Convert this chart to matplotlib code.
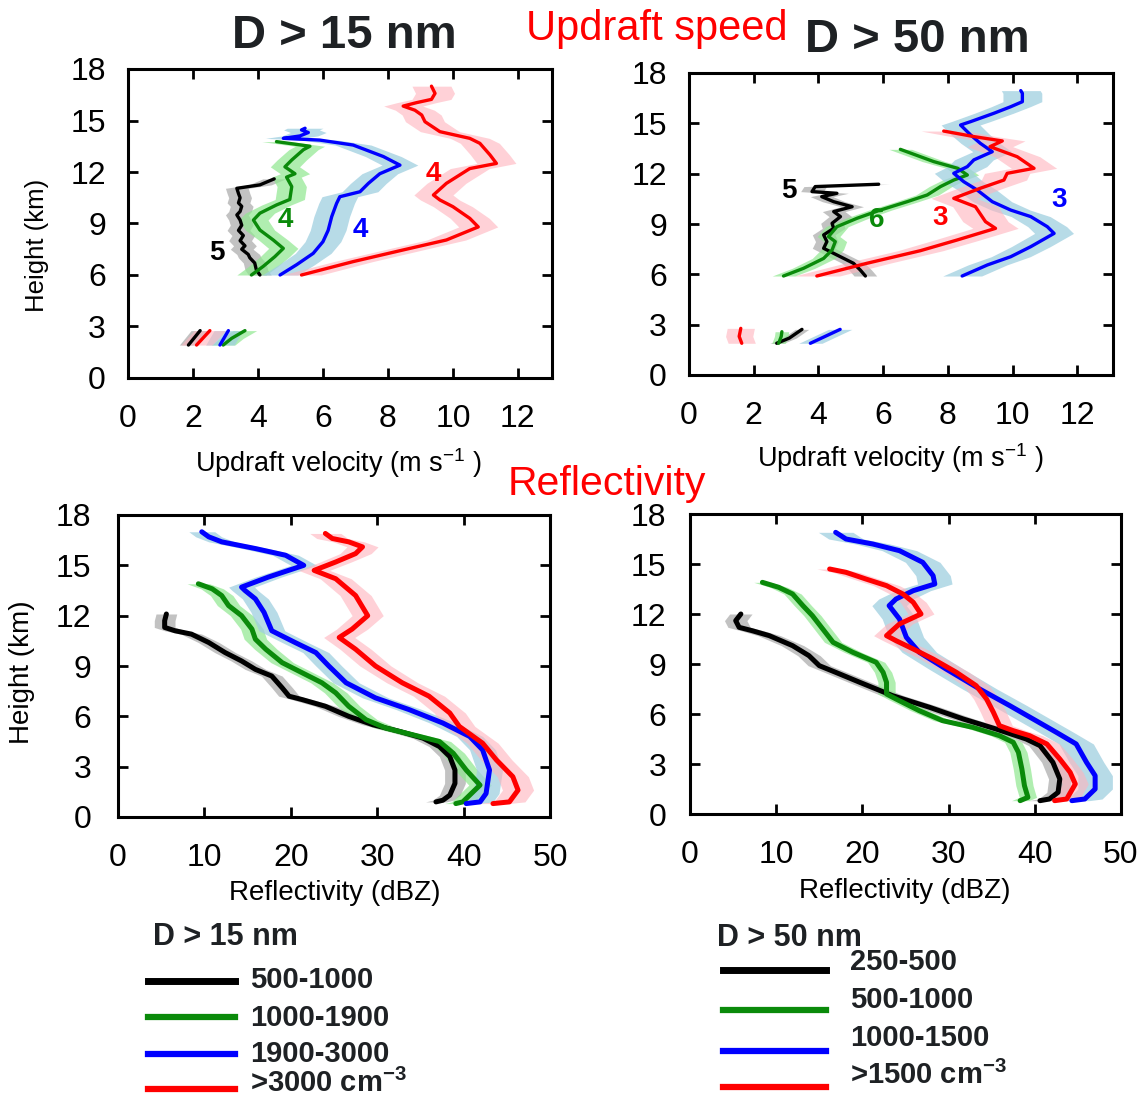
import matplotlib
matplotlib.use('Agg')
import matplotlib.pyplot as plt
from matplotlib.lines import Line2D
import numpy as np

plt.rcParams['font.family'] = ['Liberation Sans', 'DejaVu Sans']
plt.rcParams['mathtext.fontset'] = 'custom'
plt.rcParams['mathtext.rm'] = 'Liberation Sans'
plt.rcParams['mathtext.it'] = 'Liberation Sans:italic'
plt.rcParams['mathtext.bf'] = 'Liberation Sans:bold'

# ---------------- data ----------------
# Updraft velocity, D > 15 nm  (height km, velocity m/s)
w15_black_h = [6.0, 6.3, 6.7, 7.0, 7.2, 7.5, 7.7, 8.0, 8.3, 8.6, 8.9, 9.2, 9.5, 9.7, 10.0, 10.2, 10.5, 10.75, 11.05, 11.25, 11.6]
w15_black_v = [4.06, 3.95, 3.9, 3.75, 3.7, 3.5, 3.6, 3.45, 3.55, 3.4, 3.5, 3.45, 3.35, 3.45, 3.5, 3.4, 3.45, 3.4, 3.35, 4.06, 4.5]
w15_green_h = [6.0, 6.5, 7.07, 7.55, 8.04, 8.62, 9.2, 9.6, 10.08, 10.4, 11.15, 11.7, 11.9, 12.3, 12.7, 13.3, 13.5, 13.77]
w15_green_v = [3.8, 4.16, 4.52, 4.78, 4.47, 4.06, 3.86, 4.06, 4.57, 4.98, 5.04, 4.88, 5.14, 4.83, 5.04, 5.4, 5.6, 4.57]
w15_blue_h = [6.0, 6.6, 7.26, 7.94, 8.6, 9.4, 10.17, 10.56, 10.85, 11.34, 11.9, 12.4, 12.9, 13.57, 13.86, 13.96, 14.1, 14.3, 14.45, 14.55]
w15_blue_v = [4.68, 5.19, 5.7, 6.0, 6.16, 6.27, 6.42, 6.52, 7.14, 7.4, 7.75, 8.37, 7.86, 6.93, 5.9, 4.78, 5.29, 5.55, 5.34, 5.45]
w15_red_h = [6.0, 6.78, 7.46, 8.04, 8.8, 9.3, 9.98, 10.37, 10.66, 11.34, 12.2, 12.5, 13.0, 13.67, 13.96, 14.35, 14.93, 15.32, 15.6, 15.84, 16.04, 16.23, 16.58, 17.0]
w15_red_v = [5.34, 6.93, 8.47, 9.8, 10.78, 10.52, 10.0, 9.6, 9.4, 9.8, 10.52, 11.34, 11.14, 10.83, 10.52, 9.6, 9.14, 9.04, 8.83, 8.47, 8.88, 9.34, 9.45, 9.34]
# low-level segments (D > 15 nm)
w15_low_black_h = [1.92, 2.76]
w15_low_black_v = [1.86, 2.22]
w15_low_red_h = [1.92, 2.76]
w15_low_red_v = [2.11, 2.52]
w15_low_blue_h = [1.92, 2.76]
w15_low_blue_v = [2.83, 3.09]
w15_low_green_h = [1.92, 2.31, 2.76]
w15_low_green_v = [2.93, 3.19, 3.6]
w15_spread = [0.35, 0.45, 0.55, 0.6]          # black, green, blue, red
w15_counts = ['5', '4', '4', '4']

# Updraft velocity, D > 50 nm
w50_black_h = [5.9, 6.26, 6.66, 6.95, 7.25, 7.55, 7.95, 8.35, 8.74, 9.04, 9.44, 9.74, 10.03, 10.33, 10.63, 10.83, 10.93, 11.23, 11.37]
w50_black_v = [5.45, 5.29, 5.08, 4.78, 4.47, 4.16, 4.26, 4.16, 4.47, 4.42, 4.68, 4.47, 5.04, 4.47, 4.1, 4.57, 3.8, 3.9, 5.86]
w50_green_h = [5.9, 6.36, 6.95, 7.45, 7.95, 8.25, 8.84, 9.34, 9.83, 10.33, 10.73, 11.23, 11.62, 11.92, 12.32, 12.72, 13.45]
w50_green_v = [2.92, 3.54, 4.16, 4.42, 4.52, 4.31, 4.57, 5.19, 5.91, 6.74, 7.36, 7.77, 8.18, 8.6, 8.3, 7.56, 6.53]
w50_blue_h = [5.9, 6.56, 7.05, 7.65, 8.44, 8.84, 9.44, 9.83, 10.33, 11.03, 11.52, 12.02, 12.42, 12.82, 13.31, 13.81, 14.31, 14.9, 15.1, 15.6, 15.99, 16.29, 16.79, 16.95]
w50_blue_v = [8.44, 9.22, 9.94, 10.56, 11.28, 11.07, 10.56, 9.94, 9.37, 8.9, 8.49, 8.18, 8.6, 8.8, 9.37, 9.0, 8.7, 8.39, 8.7, 9.42, 9.94, 10.3, 10.3, 10.25]
w50_red_h = [5.9, 6.66, 7.41, 8.05, 8.74, 9.14, 10.03, 10.53, 11.13, 11.62, 12.02, 12.32, 13.01, 13.61, 13.95, 14.21, 14.54]
w50_red_v = [3.95, 5.5, 7.15, 8.29, 9.47, 9.16, 8.85, 8.18, 9.0, 9.73, 9.83, 10.66, 10.14, 9.3, 9.68, 8.8, 7.87]
# low-level segments (D > 50 nm)
w50_low_black_h = [1.89, 2.2, 2.72]
w50_low_black_v = [2.71, 3.1, 3.49]
w50_low_green_h = [1.89, 2.3, 2.58]
w50_low_green_v = [2.77, 2.85, 2.87]
w50_low_blue_h = [1.89, 2.72]
w50_low_blue_v = [3.75, 4.67]
w50_low_red_h = [1.89, 2.3, 2.78]
w50_low_red_v = [1.63, 1.55, 1.6]
w50_spread = [0.35, 0.35, 0.6, 0.7]
w50_counts = ['5', '6', '3', '3']

# Reflectivity, D > 15 nm (height km, dBZ)
z15_black_h = [0.9, 1.0, 1.3, 2.0, 2.8, 3.6, 4.2, 4.7, 5.1, 5.5, 6.0, 6.6, 7.0, 7.2, 7.7, 8.4, 8.8, 9.3, 9.8, 10.4, 10.9, 11.1, 11.3, 11.7, 12.1]
z15_black_z = [36.8, 37.6, 38.4, 39.0, 39.0, 38.4, 37.2, 35.3, 32.6, 29.5, 26.7, 24.0, 21.3, 19.8, 19.0, 17.8, 15.9, 14.3, 12.4, 10.5, 8.5, 6.6, 5.4, 5.4, 5.6]
z15_green_h = [0.8, 0.9, 1.9, 2.8, 3.8, 4.5, 4.8, 5.3, 5.8, 6.6, 7.4, 8.0, 8.6, 9.2, 10.0, 10.6, 11.2, 12.0, 12.6, 13.2, 13.6, 13.9]
z15_green_z = [39.1, 39.9, 41.9, 40.3, 38.8, 37.2, 34.9, 31.0, 28.7, 26.7, 25.2, 23.6, 21.3, 19.0, 17.1, 15.9, 15.5, 14.3, 12.8, 12.0, 10.9, 9.3]
z15_blue_h = [0.8, 0.9, 1.4, 2.8, 4.0, 4.8, 5.6, 6.4, 7.1, 8.0, 9.0, 9.8, 10.4, 11.1, 12.2, 13.0, 13.5, 13.7, 14.3, 15.0, 15.6, 16.0, 16.4, 16.7, 17.0]
z15_blue_z = [40.3, 41.9, 42.6, 43.0, 42.2, 40.7, 37.6, 33.7, 29.8, 26.4, 24.4, 22.9, 20.5, 17.8, 16.9, 15.9, 14.7, 14.3, 17.4, 21.5, 19.4, 15.9, 12.0, 10.5, 9.7]
z15_red_h = [0.8, 0.9, 1.6, 2.4, 3.4, 4.4, 5.4, 6.2, 7.2, 8.0, 9.0, 10.0, 10.7, 11.2, 12.0, 13.2, 14.2, 14.7, 15.2, 15.7, 16.1, 16.4, 16.6, 16.9]
z15_red_z = [43.4, 45.3, 46.3, 45.7, 43.8, 42.2, 39.5, 38.4, 36.0, 32.9, 29.8, 27.5, 25.6, 27.1, 28.9, 27.5, 25.2, 22.7, 25.2, 27.5, 28.3, 26.7, 24.8, 24.0]
z15_spread = [1.2, 1.3, 1.5, 1.8]

# Reflectivity, D > 50 nm
z50_black_h = [0.8, 0.9, 1.3, 2.1, 3.1, 4.1, 4.5, 5.1, 5.7, 6.4, 7.1, 7.9, 8.5, 8.9, 9.5, 10.1, 10.7, 11.0, 11.2, 11.6, 12.0]
z50_black_z = [40.6, 41.7, 42.7, 42.9, 42.1, 40.6, 39.0, 35.5, 31.7, 27.8, 23.5, 19.7, 16.9, 15.0, 13.8, 11.9, 9.2, 7.2, 5.7, 5.3, 5.9]
z50_green_h = [0.8, 1.0, 1.7, 2.7, 3.7, 4.3, 4.7, 5.2, 5.6, 6.2, 6.9, 7.2, 7.9, 8.5, 9.1, 9.7, 10.3, 11.1, 11.9, 12.5, 13.2, 13.6, 13.9]
z50_green_z = [38.3, 39.2, 38.8, 38.5, 38.1, 37.5, 35.9, 32.8, 29.3, 26.6, 23.9, 22.8, 22.8, 22.4, 21.6, 18.9, 16.6, 15.4, 14.2, 13.1, 11.9, 10.3, 8.4]
z50_blue_h = [0.8, 0.9, 1.5, 2.3, 3.1, 4.2, 4.9, 5.7, 6.5, 7.5, 8.7, 9.7, 10.6, 11.7, 12.5, 12.9, 13.4, 13.8, 14.3, 15.1, 15.8, 16.2, 16.5, 16.9]
z50_blue_z = [44.3, 45.8, 47.0, 47.0, 46.0, 44.8, 42.5, 39.8, 37.1, 33.6, 29.7, 26.6, 25.1, 24.3, 23.1, 23.9, 25.9, 28.4, 28.2, 27.0, 24.3, 21.2, 18.1, 16.9]
z50_red_h = [0.8, 0.9, 1.8, 2.5, 3.3, 4.2, 4.7, 5.0, 5.3, 6.1, 6.9, 7.7, 8.5, 9.3, 9.9, 10.4, 10.7, 11.4, 12.0, 12.7, 13.2, 13.7, 14.1, 14.5, 14.7]
z50_red_z = [42.3, 43.7, 44.7, 44.1, 42.9, 41.4, 39.4, 37.5, 35.9, 35.2, 34.4, 33.2, 30.9, 28.2, 25.9, 23.9, 22.8, 24.3, 26.8, 25.9, 24.7, 22.8, 20.4, 18.1, 16.2]
z50_spread = [1.3, 1.0, 2.0, 1.5]

legend15_title = 'D > 15 nm'
legend15_labels = ['500-1000', '1000-1900', '1900-3000', r'>3000 cm$^{\mathbf{-3}}$']
legend50_title = 'D > 50 nm'
legend50_labels = ['250-500', '500-1000', '1000-1500', r'>1500 cm$^{\mathbf{-3}}$']

# ---------------- style ----------------
line_colors = ['#000000', '#0a8a0a', '#0000ff', '#ff0000']
band_colors = ['#9a9a9a', '#8fe88f', '#9fcfe0', '#ffb3bd']
band_alpha = [0.6, 0.7, 0.75, 0.6]

W, H = 1144, 1099
fig = plt.figure(figsize=(W / 100, H / 100), dpi=100)


def fx(x):
    return x / W


def fy(y):
    return 1 - y / H


def make_axes(l, t, r, b):
    return fig.add_axes([fx(l), fy(b), (r - l) / W, (b - t) / H])


def style(ax, xmax, xticks, ypad):
    ax.set_xlim(0, xmax)
    ax.set_ylim(0, 18)
    ax.set_xticks(xticks)
    ax.set_yticks(np.arange(0, 19, 3))
    ax.tick_params(direction='in', length=7, width=2, top=True, right=True,
                   labelsize=23)
    ax.tick_params(axis='x', pad=19)
    ax.tick_params(axis='y', pad=ypad)
    for s in ax.spines.values():
        s.set_linewidth(2.2)


def profile(ax, h, v, i, spread, lw):
    h = np.asarray(h)
    v = np.asarray(v)
    ax.fill_betweenx(h, v - spread, v + spread, color=band_colors[i],
                     alpha=band_alpha[i], lw=0)
    ax.plot(v, h, color=line_colors[i], lw=lw, solid_capstyle='round',
            zorder=3)


# top-left
ax1 = make_axes(128, 69, 552, 378)
top15 = [(w15_black_h, w15_black_v), (w15_green_h, w15_green_v),
         (w15_blue_h, w15_blue_v), (w15_red_h, w15_red_v)]
low15 = [(w15_low_black_h, w15_low_black_v), (w15_low_green_h, w15_low_green_v),
         (w15_low_blue_h, w15_low_blue_v), (w15_low_red_h, w15_low_red_v)]
for i in range(4):
    profile(ax1, *top15[i], i, w15_spread[i], 2.4)
    profile(ax1, *low15[i], i, w15_spread[i] * 0.8, 2.4)
style(ax1, 13.05, np.arange(0, 13, 2), 16)
lab15_pos = [(2.73, 7.3), (4.83, 9.2), (7.14, 8.6), (9.4, 11.9)]
for i in range(4):
    ax1.text(*lab15_pos[i], w15_counts[i], color=line_colors[i], fontsize=20,
             fontweight='bold', ha='center', va='center', zorder=4)

# top-right
ax2 = make_axes(689, 73, 1113, 375)
top50 = [(w50_black_h, w50_black_v), (w50_green_h, w50_green_v),
         (w50_blue_h, w50_blue_v), (w50_red_h, w50_red_v)]
low50 = [(w50_low_black_h, w50_low_black_v), (w50_low_green_h, w50_low_green_v),
         (w50_low_blue_h, w50_low_blue_v), (w50_low_red_h, w50_low_red_v)]
for i in range(4):
    profile(ax2, *top50[i], i, w50_spread[i], 2.4)
    profile(ax2, *low50[i], i, w50_spread[i] * 0.6, 2.4)
style(ax2, 13.1, np.arange(0, 13, 2), 16)
lab50_pos = [(3.08, 10.95), (5.81, 9.24), (11.43, 10.43), (7.77, 9.34)]
for i in range(4):
    ax2.text(*lab50_pos[i], w50_counts[i], color=line_colors[i], fontsize=20,
             fontweight='bold', ha='center', va='center', zorder=4)

# bottom-left
ax3 = make_axes(118, 515, 550, 817)
refl15 = [(z15_black_h, z15_black_z), (z15_green_h, z15_green_z),
          (z15_blue_h, z15_blue_z), (z15_red_h, z15_red_z)]
for i in range(4):
    profile(ax3, *refl15[i], i, z15_spread[i], 3.6)
style(ax3, 50, np.arange(0, 51, 10), 19)

# bottom-right
ax4 = make_axes(690, 514, 1121, 814)
refl50 = [(z50_black_h, z50_black_z), (z50_green_h, z50_green_z),
          (z50_blue_h, z50_blue_z), (z50_red_h, z50_red_z)]
for i in range(4):
    profile(ax4, *refl50[i], i, z50_spread[i], 3.6)
style(ax4, 50, np.arange(0, 51, 10), 17)

# axis labels
fig.text(fx(338), fy(463), r'Updraft velocity (m s$^{-1}$ )', fontsize=19.5,
         ha='center', va='center')
fig.text(fx(900), fy(458), r'Updraft velocity (m s$^{-1}$ )', fontsize=19.5,
         ha='center', va='center')
fig.text(fx(335), fy(893), 'Reflectivity (dBZ)', fontsize=20,
         ha='center', va='center')
fig.text(fx(905), fy(891), 'Reflectivity (dBZ)', fontsize=20,
         ha='center', va='center')
fig.text(fx(37), fy(245), 'Height (km)', fontsize=18.5, rotation=90,
         ha='center', va='center')
fig.text(fx(22), fy(672), 'Height (km)', fontsize=20, rotation=90,
         ha='center', va='center')

# headings
fig.text(fx(344), fy(36), 'D > 15 nm', fontsize=34, fontweight='bold',
         color='#1e2124', ha='center', va='center')
fig.text(fx(917), fy(40), 'D > 50 nm', fontsize=34, fontweight='bold',
         color='#1e2124', ha='center', va='center')
fig.text(fx(657), fy(29), 'Updraft speed', fontsize=30, color='#ff0000',
         ha='center', va='center')
fig.text(fx(607), fy(484), 'Reflectivity', fontsize=29.5, color='#ff0000',
         ha='center', va='center')

# legends (drawn manually in figure pixel space)
txtc = '#1e2124'
fig.text(fx(153), fy(937), legend15_title, fontsize=22, fontweight='bold',
         color=txtc, ha='left', va='center')
leg15_rows = [977, 1015, 1051, 1081]
leg15_lines = [981, 1017, 1054, 1089]
for i in range(4):
    fig.add_artist(Line2D([fx(148), fx(235)], [fy(leg15_lines[i])] * 2,
                          color=line_colors[i], lw=5 if i == 0 else 4.5,
                          transform=fig.transFigure))
    fig.text(fx(250), fy(leg15_rows[i] + 10.5), legend15_labels[i], fontsize=21,
             fontweight='bold', color=txtc, ha='left', va='baseline')

fig.text(fx(717), fy(938), legend50_title, fontsize=22, fontweight='bold',
         color=txtc, ha='left', va='center')
leg50_rows = [960, 998, 1035, 1073]
leg50_lines = [970, 1010, 1051, 1087]
for i in range(4):
    fig.add_artist(Line2D([fx(723), fx(826)], [fy(leg50_lines[i])] * 2,
                          color=line_colors[i], lw=5 if i == 0 else 4.5,
                          transform=fig.transFigure))
    fig.text(fx(850), fy(leg50_rows[i] + 10.5), legend50_labels[i], fontsize=21,
             fontweight='bold', color=txtc, ha='left', va='baseline')

fig.savefig('out.png', dpi=100)
